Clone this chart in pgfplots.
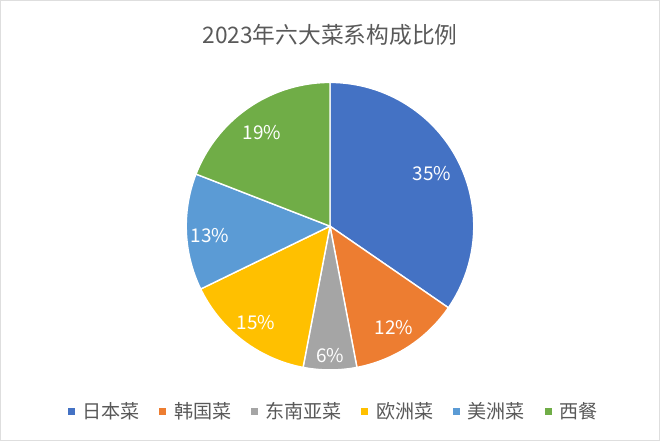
\documentclass[border=0pt]{standalone}
\usepackage{fontspec}
\setmainfont{Noto Sans CJK SC}
\usepackage{pgfplots}
\pgfplotsset{compat=1.18}
\definecolor{cJ}{HTML}{4472C4}
\definecolor{cK}{HTML}{ED7D31}
\definecolor{cS}{HTML}{A5A5A5}
\definecolor{cE}{HTML}{FFC000}
\definecolor{cA}{HTML}{5B9BD5}
\definecolor{cW}{HTML}{70AD47}
\definecolor{tgray}{HTML}{595959}
% shares (percent)
\def\vJ{34.6}\def\vK{12.4}\def\vS{6.0}\def\vE{14.8}\def\vA{13.1}\def\vW{19.1}
\pgfmathsetmacro\aO{90}
\pgfmathsetmacro\aJ{\aO-3.6*\vJ}
\pgfmathsetmacro\aK{\aJ-3.6*\vK}
\pgfmathsetmacro\aS{\aK-3.6*\vS}
\pgfmathsetmacro\aE{\aS-3.6*\vE}
\pgfmathsetmacro\aA{\aE-3.6*\vA}
\pgfmathsetmacro\aW{-270}
\begin{document}
\begin{tikzpicture}
\begin{axis}[
  width=16.5cm, height=11.025cm, scale only axis,
  xmin=0, xmax=660, ymin=0, ymax=441,
  hide axis, clip=false,
  legend columns=6,
  legend style={at={(axis cs:334,29)}, anchor=center, draw=none, fill=none,
    font=\fontsize{13.6}{15}\selectfont, text=tgray,
    /tikz/every even column/.append style={column sep=0.42cm}},
  legend image code/.code={\path[#1,draw=none] (0cm,-0.088cm) rectangle (0.175cm,0.088cm); \path (0.28cm,0);},
]
\draw[black!13, line width=0.8pt] (axis cs:0,0) rectangle (axis cs:660,441);
\addplot[fill=cJ, draw=white, line width=1pt, domain=\aJ:\aO, samples=120, variable=\t] ({330+144*cos(\t)},{215+144*sin(\t)}) -- (axis cs:330,215) -- cycle;
\addlegendentry{日本菜}
\addplot[fill=cK, draw=white, line width=1pt, domain=\aK:\aJ, samples=60, variable=\t] ({330+144*cos(\t)},{215+144*sin(\t)}) -- (axis cs:330,215) -- cycle;
\addlegendentry{韩国菜}
\addplot[fill=cS, draw=white, line width=1pt, domain=\aS:\aK, samples=40, variable=\t] ({330+144*cos(\t)},{215+144*sin(\t)}) -- (axis cs:330,215) -- cycle;
\addlegendentry{东南亚菜}
\addplot[fill=cE, draw=white, line width=1pt, domain=\aE:\aS, samples=60, variable=\t] ({330+144*cos(\t)},{215+144*sin(\t)}) -- (axis cs:330,215) -- cycle;
\addlegendentry{欧洲菜}
\addplot[fill=cA, draw=white, line width=1pt, domain=\aA:\aE, samples=60, variable=\t] ({330+144*cos(\t)},{215+144*sin(\t)}) -- (axis cs:330,215) -- cycle;
\addlegendentry{美洲菜}
\addplot[fill=cW, draw=white, line width=1pt, domain=\aW:\aA, samples=80, variable=\t] ({330+144*cos(\t)},{215+144*sin(\t)}) -- (axis cs:330,215) -- cycle;
\addlegendentry{西餐}
\begin{scope}[every node/.style={text=white, font=\fontsize{13.5}{15}\selectfont}]
\node at (axis cs:432,268) {35\%};
\node at (axis cs:394,113) {12\%};
\node at (axis cs:330,85) {6\%};
\node at (axis cs:256,118) {15\%};
\node at (axis cs:210,206) {13\%};
\node at (axis cs:262,309) {19\%};
\end{scope}
\node[text=tgray, font=\fontsize{16.2}{18}\selectfont] at (axis cs:330,407) {2023年六大菜系构成比例};
\end{axis}
\end{tikzpicture}
\end{document}
